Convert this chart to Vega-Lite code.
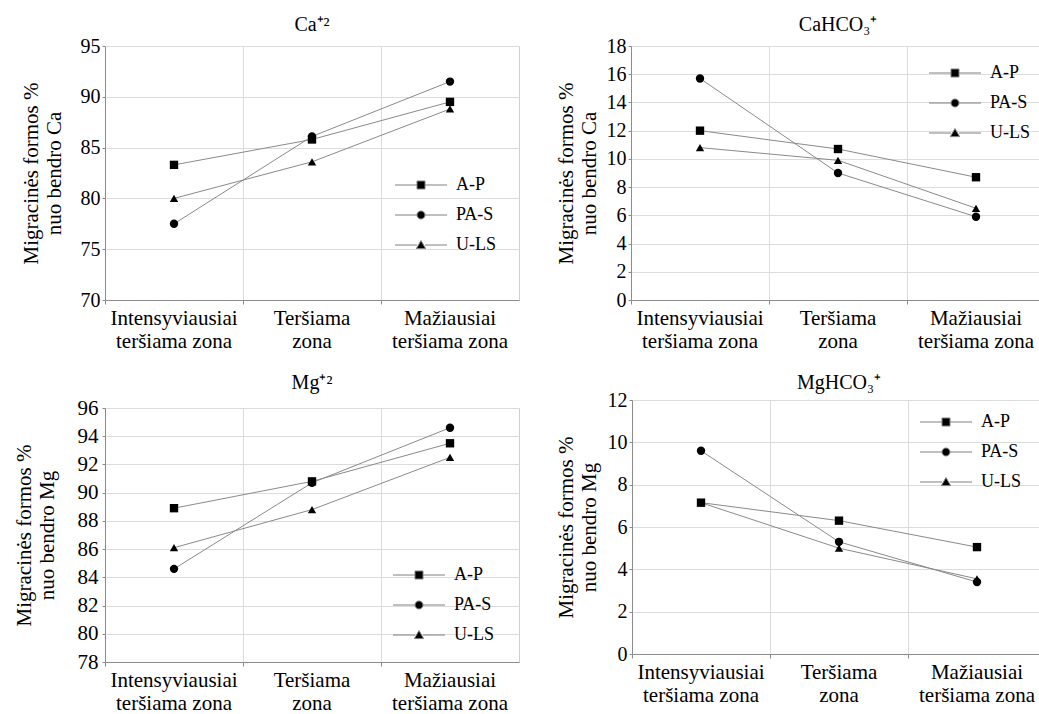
{
  "$schema": "https://vega.github.io/schema/vega-lite/v6.json",
  "background": "white",
  "padding": {"left": 12, "top": 14, "right": 0, "bottom": 0},
  "datasets": {
    "ca": [
      {"zone": "Intensyviausiai teršiama zona", "series": "A-P", "value": 83.3},
      {"zone": "Teršiama zona", "series": "A-P", "value": 85.8},
      {"zone": "Mažiausiai teršiama zona", "series": "A-P", "value": 89.5},
      {"zone": "Intensyviausiai teršiama zona", "series": "PA-S", "value": 77.5},
      {"zone": "Teršiama zona", "series": "PA-S", "value": 86.1},
      {"zone": "Mažiausiai teršiama zona", "series": "PA-S", "value": 91.5},
      {"zone": "Intensyviausiai teršiama zona", "series": "U-LS", "value": 80.0},
      {"zone": "Teršiama zona", "series": "U-LS", "value": 83.6},
      {"zone": "Mažiausiai teršiama zona", "series": "U-LS", "value": 88.8}
    ],
    "cahco3": [
      {"zone": "Intensyviausiai teršiama zona", "series": "A-P", "value": 12.0},
      {"zone": "Teršiama zona", "series": "A-P", "value": 10.7},
      {"zone": "Mažiausiai teršiama zona", "series": "A-P", "value": 8.7},
      {"zone": "Intensyviausiai teršiama zona", "series": "PA-S", "value": 15.7},
      {"zone": "Teršiama zona", "series": "PA-S", "value": 9.0},
      {"zone": "Mažiausiai teršiama zona", "series": "PA-S", "value": 5.9},
      {"zone": "Intensyviausiai teršiama zona", "series": "U-LS", "value": 10.8},
      {"zone": "Teršiama zona", "series": "U-LS", "value": 9.9},
      {"zone": "Mažiausiai teršiama zona", "series": "U-LS", "value": 6.5}
    ],
    "mg": [
      {"zone": "Intensyviausiai teršiama zona", "series": "A-P", "value": 88.9},
      {"zone": "Teršiama zona", "series": "A-P", "value": 90.8},
      {"zone": "Mažiausiai teršiama zona", "series": "A-P", "value": 93.5},
      {"zone": "Intensyviausiai teršiama zona", "series": "PA-S", "value": 84.6},
      {"zone": "Teršiama zona", "series": "PA-S", "value": 90.7},
      {"zone": "Mažiausiai teršiama zona", "series": "PA-S", "value": 94.6},
      {"zone": "Intensyviausiai teršiama zona", "series": "U-LS", "value": 86.1},
      {"zone": "Teršiama zona", "series": "U-LS", "value": 88.8},
      {"zone": "Mažiausiai teršiama zona", "series": "U-LS", "value": 92.5}
    ],
    "mghco3": [
      {"zone": "Intensyviausiai teršiama zona", "series": "A-P", "value": 7.15},
      {"zone": "Teršiama zona", "series": "A-P", "value": 6.3},
      {"zone": "Mažiausiai teršiama zona", "series": "A-P", "value": 5.05},
      {"zone": "Intensyviausiai teršiama zona", "series": "PA-S", "value": 9.6},
      {"zone": "Teršiama zona", "series": "PA-S", "value": 5.3},
      {"zone": "Mažiausiai teršiama zona", "series": "PA-S", "value": 3.4},
      {"zone": "Intensyviausiai teršiama zona", "series": "U-LS", "value": 7.15},
      {"zone": "Teršiama zona", "series": "U-LS", "value": 5.0},
      {"zone": "Mažiausiai teršiama zona", "series": "U-LS", "value": 3.55}
    ]
  },
  "config": {
    "font": "Liberation Serif",
    "view": {"stroke": "#cfcfcf"},
    "style": {
      "guide-label": {"font": "Liberation Serif", "fill": "black"},
      "guide-title": {"font": "Liberation Serif", "fill": "black", "fontWeight": "normal"}
    },
    "title": {"font": "Liberation Serif", "fontSize": 20, "fontWeight": "normal", "color": "black", "anchor": "middle"},
    "axis": {
      "labelFont": "Liberation Serif", "titleFont": "Liberation Serif", "labelColor": "black", "titleColor": "black",
      "titleFontWeight": "normal", "gridColor": "#dcdcdc", "domainColor": "#8c8c8c", "tickColor": "#8c8c8c"
    },
    "axisX": {
      "title": null, "labelAngle": 0, "labelFontSize": 21, "labelLineHeight": 23, "bandPosition": 0,
      "grid": true, "tickSize": 4, "labelPadding": 3, "labelOverlap": false,
      "labelExpr": "[split(datum.value,' ')[0], join(slice(split(datum.value,' '),1),' ')]"
    },
    "axisY": {"labelFontSize": 20, "tickSize": 3, "labelPadding": 2, "titleFontSize": 21, "titleLineHeight": 23},
    "legend": {
      "orient": "none", "title": null, "symbolSize": 64, "labelOffset": 26, "rowPadding": 12, "padding": 0,
      "labelFont": "Liberation Serif", "labelFontSize": 18, "labelColor": "black",
      "symbolOpacity": 1, "symbolStrokeWidth": 1
    }
  },
  "columns": 2,
  "align": "none",
  "spacing": {"row": 20, "column": 34},
  "concat": [
    {
      "width": 414, "height": 254,
      "data": {"name": "ca"},
      "title": {"text": "Ca⁺²", "offset": 1},
      "encoding": {
        "x": {"field": "zone", "type": "nominal", "sort": ["Intensyviausiai teršiama zona", "Teršiama zona", "Mažiausiai teršiama zona"], "scale": {"type": "band", "paddingInner": 0, "paddingOuter": 0}},
        "y": {"field": "value", "type": "quantitative", "scale": {"domain": [70, 95], "nice": false, "zero": false}, "axis": {"values": [70, 75, 80, 85, 90, 95], "title": ["Migracinės formos %", "nuo bendro Ca"], "titlePadding": 16}}
      },
      "layer": [
        {"mark": {"type": "line", "color": "#8a8a8a", "strokeWidth": 1}, "encoding": {"detail": {"field": "series"}}},
        {"mark": {"type": "point", "filled": true, "color": "black", "size": 70, "opacity": 1}, "encoding": {"shape": {"field": "series", "type": "nominal", "scale": {"domain": ["A-P", "PA-S", "U-LS"], "range": ["square", "circle", "triangle-up"]}, "legend": null}}},
        {"mark": {"type": "point", "filled": true, "fill": "black", "stroke": "#808080", "strokeWidth": 1, "opacity": 0}, "encoding": {"shape": {"field": "series", "type": "nominal", "scale": {"domain": ["A-P", "PA-S", "U-LS"], "range": ["M-6.5,0H-1M1,0H6.5M-1,-1H1V1H-1Z", "M-6.5,0H-1M1,0H6.5M-1,0A1,1,0,1,1,1,0A1,1,0,1,1,-1,0Z", "M-6.5,0H-1M1,0H6.5M0,-1.1L1.15,0.9H-1.15Z"]}, "legend": {"legendX": 307, "legendY": 130}}}}
      ],
      "resolve": {"scale": {"shape": "independent"}, "legend": {"shape": "independent"}}
    },
    {
      "width": 414, "height": 254,
      "data": {"name": "cahco3"},
      "title": {"text": "CaHCO₃⁺", "offset": 1},
      "encoding": {
        "x": {"field": "zone", "type": "nominal", "sort": ["Intensyviausiai teršiama zona", "Teršiama zona", "Mažiausiai teršiama zona"], "scale": {"type": "band", "paddingInner": 0, "paddingOuter": 0}},
        "y": {"field": "value", "type": "quantitative", "scale": {"domain": [0, 18], "nice": false}, "axis": {"values": [0, 2, 4, 6, 8, 10, 12, 14, 16, 18], "title": ["Migracinės formos %", "nuo bendro Ca"], "titlePadding": 7}}
      },
      "layer": [
        {"mark": {"type": "line", "color": "#8a8a8a", "strokeWidth": 1}, "encoding": {"detail": {"field": "series"}}},
        {"mark": {"type": "point", "filled": true, "color": "black", "size": 70, "opacity": 1}, "encoding": {"shape": {"field": "series", "type": "nominal", "scale": {"domain": ["A-P", "PA-S", "U-LS"], "range": ["square", "circle", "triangle-up"]}, "legend": null}}},
        {"mark": {"type": "point", "filled": true, "fill": "black", "stroke": "#808080", "strokeWidth": 1, "opacity": 0}, "encoding": {"shape": {"field": "series", "type": "nominal", "scale": {"domain": ["A-P", "PA-S", "U-LS"], "range": ["M-6.5,0H-1M1,0H6.5M-1,-1H1V1H-1Z", "M-6.5,0H-1M1,0H6.5M-1,0A1,1,0,1,1,1,0A1,1,0,1,1,-1,0Z", "M-6.5,0H-1M1,0H6.5M0,-1.1L1.15,0.9H-1.15Z"]}, "legend": {"legendX": 315, "legendY": 18}}}}
      ],
      "resolve": {"scale": {"shape": "independent"}, "legend": {"shape": "independent"}}
    },
    {
      "width": 414, "height": 254,
      "data": {"name": "mg"},
      "title": {"text": "Mg⁺²", "offset": 4},
      "encoding": {
        "x": {"field": "zone", "type": "nominal", "sort": ["Intensyviausiai teršiama zona", "Teršiama zona", "Mažiausiai teršiama zona"], "scale": {"type": "band", "paddingInner": 0, "paddingOuter": 0}},
        "y": {"field": "value", "type": "quantitative", "scale": {"domain": [78, 96], "nice": false, "zero": false}, "axis": {"values": [78, 80, 82, 84, 86, 88, 90, 92, 94, 96], "title": ["Migracinės formos %", "nuo bendro Mg"], "titlePadding": 20, "labelPadding": 4, "labelFontSize": 21}}
      },
      "layer": [
        {"mark": {"type": "line", "color": "#8a8a8a", "strokeWidth": 1}, "encoding": {"detail": {"field": "series"}}},
        {"mark": {"type": "point", "filled": true, "color": "black", "size": 70, "opacity": 1}, "encoding": {"shape": {"field": "series", "type": "nominal", "scale": {"domain": ["A-P", "PA-S", "U-LS"], "range": ["square", "circle", "triangle-up"]}, "legend": null}}},
        {"mark": {"type": "point", "filled": true, "fill": "black", "stroke": "#808080", "strokeWidth": 1, "opacity": 0}, "encoding": {"shape": {"field": "series", "type": "nominal", "scale": {"domain": ["A-P", "PA-S", "U-LS"], "range": ["M-6.5,0H-1M1,0H6.5M-1,-1H1V1H-1Z", "M-6.5,0H-1M1,0H6.5M-1,0A1,1,0,1,1,1,0A1,1,0,1,1,-1,0Z", "M-6.5,0H-1M1,0H6.5M0,-1.1L1.15,0.9H-1.15Z"]}, "legend": {"legendX": 305, "legendY": 158}}}}
      ],
      "resolve": {"scale": {"shape": "independent"}, "legend": {"shape": "independent"}}
    },
    {
      "width": 414, "height": 254,
      "data": {"name": "mghco3"},
      "title": {"text": "MgHCO₃⁺", "offset": -3},
      "encoding": {
        "x": {"field": "zone", "type": "nominal", "sort": ["Intensyviausiai teršiama zona", "Teršiama zona", "Mažiausiai teršiama zona"], "scale": {"type": "band", "paddingInner": 0, "paddingOuter": 0}},
        "y": {"field": "value", "type": "quantitative", "scale": {"domain": [0, 12], "nice": false}, "axis": {"values": [0, 2, 4, 6, 8, 10, 12], "title": ["Migracinės formos %", "nuo bendro Mg"], "titlePadding": 8}}
      },
      "layer": [
        {"mark": {"type": "line", "color": "#8a8a8a", "strokeWidth": 1}, "encoding": {"detail": {"field": "series"}}},
        {"mark": {"type": "point", "filled": true, "color": "black", "size": 70, "opacity": 1}, "encoding": {"shape": {"field": "series", "type": "nominal", "scale": {"domain": ["A-P", "PA-S", "U-LS"], "range": ["square", "circle", "triangle-up"]}, "legend": null}}},
        {"mark": {"type": "point", "filled": true, "fill": "black", "stroke": "#808080", "strokeWidth": 1, "opacity": 0}, "encoding": {"shape": {"field": "series", "type": "nominal", "scale": {"domain": ["A-P", "PA-S", "U-LS"], "range": ["M-6.5,0H-1M1,0H6.5M-1,-1H1V1H-1Z", "M-6.5,0H-1M1,0H6.5M-1,0A1,1,0,1,1,1,0A1,1,0,1,1,-1,0Z", "M-6.5,0H-1M1,0H6.5M0,-1.1L1.15,0.9H-1.15Z"]}, "legend": {"legendX": 305, "legendY": 13}}}}
      ],
      "resolve": {"scale": {"shape": "independent"}, "legend": {"shape": "independent"}}
    }
  ]
}
